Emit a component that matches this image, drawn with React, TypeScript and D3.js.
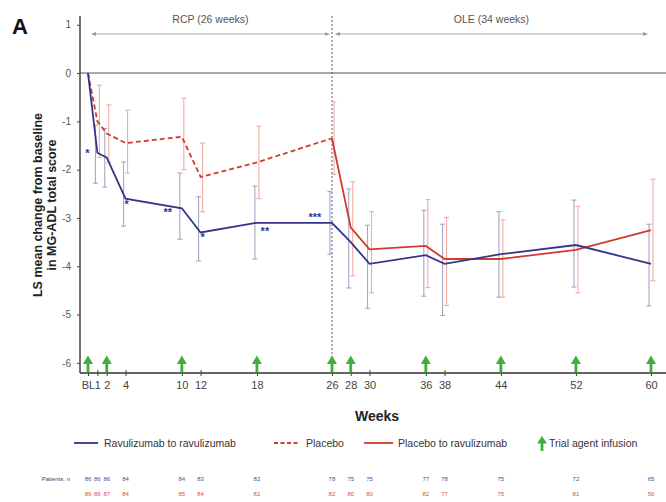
import { useEffect, useRef } from 'react';
import * as d3 from 'd3';

const weeks = [0, 1, 2, 4, 10, 12, 18, 26, 28, 30, 36, 38, 44, 52, 60];
const tickLabels = ['BL', '1', '2', '4', '10', '12', '18', '26', '28', '30', '36', '38', '44', '52', '60'];

// Ravulizumab to ravulizumab
const ravuMean = [0, -1.65, -1.75, -2.6, -2.8, -3.3, -3.1, -3.1, -3.5, -3.95, -3.77, -3.95, -3.75, -3.56, -3.95];
const ravuLower = [null, -2.28, -2.36, -3.17, -3.44, -3.89, -3.85, -3.75, -4.45, -4.87, -4.62, -5.02, -4.64, -4.43, -4.82];
const ravuUpper = [null, -1.08, -1.15, -1.84, -2.07, -2.56, -2.34, -2.45, -2.4, -3.15, -2.84, -3.13, -2.87, -2.63, -3.13];

// Placebo (RCP)
const placeboWeeks = [0, 1, 2, 4, 10, 12, 18, 26];
const placeboMean = [0, -1.0, -1.25, -1.45, -1.32, -2.15, -1.85, -1.35];
const placeboLower = [null, -1.75, -1.85, -2.07, -2.0, -2.87, -2.6, -2.1];
const placeboUpper = [null, -0.25, -0.66, -0.77, -0.52, -1.45, -1.1, -0.6];

// Placebo to ravulizumab (OLE)
const p2rWeeks = [26, 28, 30, 36, 38, 44, 52, 60];
const p2rMean = [-1.35, -3.2, -3.65, -3.58, -3.85, -3.85, -3.66, -3.25];
const p2rLower = [null, -4.2, -4.55, -4.44, -4.81, -4.64, -4.55, -4.3];
const p2rUpper = [null, -2.25, -2.87, -2.62, -2.99, -3.04, -2.76, -2.2];

const infusionWeeks = [0, 2, 10, 18, 26, 28, 36, 44, 52, 60];

const starWeeks = [1, 4, 10, 12, 18, 26];
const starLabels = ['*', '*', '**', '*', '**', '***'];

const ravuN = [86, 86, 86, 84, 84, 83, 82, 78, 75, 75, 77, 78, 75, 72, 65];
const placeboN = [89, 89, 87, 84, 85, 84, 82, 82, 80, 80, 82, 77, 75, 81, 56];

const yTicks = [1, 0, -1, -2, -3, -4, -5, -6];

const BLUE = '#34348c';
const RED = '#d23b2b';
const BLUE_BAR = '#a6a6c6';
const RED_BAR = '#f2aca2';
const GREEN = '#3fae3a';
const FONT = 'Liberation Sans, Arial, sans-serif';

const App = () => {
  const svgRef = useRef<SVGSVGElement>(null);

  useEffect(() => {
    if (!svgRef.current) return;
    const W = 666;
    const H = 502;
    const svg = d3.select(svgRef.current);
    svg.selectAll('*').remove();
    svg.attr('width', W).attr('height', H);

    const x = d3.scaleLinear().domain([0, 60]).range([88, 651]);
    const y = d3.scaleLinear().domain([1.14, -6.21]).range([18, 373]);
    const axisLeft = 80;
    const axisBottom = 373;

    // zero reference line
    svg.append('line')
      .attr('x1', axisLeft).attr('x2', W)
      .attr('y1', y(0)).attr('y2', y(0))
      .attr('stroke', '#8c8c8c').attr('stroke-width', 1.5);

    // RCP / OLE divider
    svg.append('line')
      .attr('x1', x(26)).attr('x2', x(26))
      .attr('y1', 16).attr('y2', axisBottom)
      .attr('stroke', '#5a5a80').attr('stroke-width', 1)
      .attr('stroke-dasharray', '2,2');

    // period arrows
    const defs = svg.append('defs');
    defs.append('marker')
      .attr('id', 'ah').attr('viewBox', '0 0 10 10')
      .attr('refX', 9).attr('refY', 5)
      .attr('markerWidth', 5).attr('markerHeight', 5)
      .attr('orient', 'auto-start-reverse')
      .append('path').attr('d', 'M0,1 L10,5 L0,9 Z').attr('fill', '#9a9a9a');

    const periods = [
      { label: 'RCP (26 weeks)', from: 0.4, to: 25.7 },
      { label: 'OLE (34 weeks)', from: 26.4, to: 59.6 }
    ];
    periods.forEach(p => {
      svg.append('line')
        .attr('x1', x(p.from)).attr('x2', x(p.to))
        .attr('y1', 34).attr('y2', 34)
        .attr('stroke', '#a8a8a8').attr('stroke-width', 1)
        .attr('marker-start', 'url(#ah)').attr('marker-end', 'url(#ah)');
      svg.append('text')
        .attr('x', (x(p.from) + x(p.to)) / 2).attr('y', 23)
        .attr('text-anchor', 'middle')
        .style('font-family', FONT).style('font-size', '10.5px').style('fill', '#555')
        .text(p.label);
    });

    // axes
    const yAxis = svg.append('g')
      .attr('transform', `translate(${axisLeft},0)`)
      .call(d3.axisLeft(y).tickValues(yTicks).tickSize(3).tickPadding(6).tickFormat(d => String(d)));
    yAxis.select('.domain').attr('stroke', '#444').attr('stroke-width', 1.5).attr('d', `M0,16V${axisBottom}`);
    yAxis.selectAll('.tick line').attr('stroke', '#444');
    yAxis.selectAll('text').style('font-family', FONT).style('font-size', '10px').style('fill', '#555');

    const xAxis = svg.append('g')
      .attr('transform', `translate(0,${axisBottom})`)
      .call(d3.axisBottom(x).tickValues(weeks).tickSize(3).tickPadding(5).tickFormat((_, i) => tickLabels[i]));
    xAxis.select('.domain').attr('stroke', '#333').attr('stroke-width', 1.5).attr('d', `M${axisLeft},0H${W}`);
    xAxis.selectAll('.tick line').attr('stroke', '#444').attr('y1', -3);
    xAxis.selectAll('text').style('font-family', FONT).style('font-size', '11px').style('fill', '#444');

    // error bars
    const drawBars = (wk: number[], lo: (number | null)[], hi: (number | null)[], color: string, dx: number) => {
      wk.forEach((w, i) => {
        const l = lo[i];
        const h = hi[i];
        if (l == null || h == null) return;
        const cx = x(w) + dx;
        const g = svg.append('g').attr('stroke', color).attr('stroke-width', 1.1);
        g.append('line').attr('x1', cx).attr('x2', cx).attr('y1', y(l)).attr('y2', y(h));
        g.append('line').attr('x1', cx - 2.5).attr('x2', cx + 2.5).attr('y1', y(l)).attr('y2', y(l));
        g.append('line').attr('x1', cx - 2.5).attr('x2', cx + 2.5).attr('y1', y(h)).attr('y2', y(h));
      });
    };
    drawBars(weeks, ravuLower, ravuUpper, BLUE_BAR, -2);
    drawBars(placeboWeeks, placeboLower, placeboUpper, RED_BAR, 2);
    drawBars(p2rWeeks, p2rLower, p2rUpper, RED_BAR, 2);

    // lines
    const line = d3.line<[number, number]>().x(d => x(d[0])).y(d => y(d[1]));
    svg.append('path')
      .datum(placeboWeeks.map((w, i) => [w, placeboMean[i]] as [number, number]))
      .attr('d', line).attr('fill', 'none')
      .attr('stroke', RED).attr('stroke-width', 1.8).attr('stroke-dasharray', '5,3');
    svg.append('path')
      .datum(p2rWeeks.map((w, i) => [w, p2rMean[i]] as [number, number]))
      .attr('d', line).attr('fill', 'none')
      .attr('stroke', RED).attr('stroke-width', 1.8);
    svg.append('path')
      .datum(weeks.map((w, i) => [w, ravuMean[i]] as [number, number]))
      .attr('d', line).attr('fill', 'none')
      .attr('stroke', BLUE).attr('stroke-width', 1.8);

    // significance stars
    const starDx = [-10, 1, -14, 2, 8, -17];
    const starDy = [4, 9, 8, 9, 12, -2];
    starWeeks.forEach((w, i) => {
      const m = ravuMean[weeks.indexOf(w)];
      svg.append('text')
        .attr('x', x(w) + starDx[i]).attr('y', y(m) + starDy[i])
        .attr('text-anchor', 'middle')
        .style('font-family', FONT).style('font-size', '11px').style('font-weight', 'bold')
        .style('fill', BLUE)
        .text(starLabels[i]);
    });

    // infusion arrows
    const arrowPath = (cx: number, base: number, h: number) => {
      const head = h * 0.5;
      const tip = base - h;
      return `M${cx - 1.4},${base} L${cx - 1.4},${tip + head} L${cx - 5},${tip + head} L${cx},${tip} L${cx + 5},${tip + head} L${cx + 1.4},${tip + head} L${cx + 1.4},${base} Z`;
    };
    infusionWeeks.forEach(w => {
      svg.append('path')
        .attr('d', arrowPath(x(w), y(-6.2), 17))
        .attr('fill', GREEN);
    });

    // axis titles
    const yt = svg.append('text')
      .attr('transform', 'translate(42,205) rotate(-90)')
      .attr('text-anchor', 'middle')
      .style('font-family', FONT).style('font-size', '12.5px').style('font-weight', 'bold')
      .style('fill', '#222');
    yt.append('tspan').attr('x', 0).attr('dy', 0).text('LS mean change from baseline');
    yt.append('tspan').attr('x', 0).attr('dy', 14).text('in MG-ADL total score');

    svg.append('text')
      .attr('x', 377).attr('y', 421)
      .attr('text-anchor', 'middle')
      .style('font-family', FONT).style('font-size', '14px').style('font-weight', 'bold')
      .style('fill', '#222')
      .text('Weeks');

    svg.append('text')
      .attr('x', 12).attr('y', 34)
      .style('font-family', FONT).style('font-size', '22px').style('font-weight', 'bold')
      .style('fill', '#111')
      .text('A');

    // legend
    const ly = 443;
    const legend = svg.append('g').style('font-family', FONT).style('font-size', '10.5px').style('fill', '#333');
    legend.append('line').attr('x1', 74).attr('x2', 98).attr('y1', ly).attr('y2', ly).attr('stroke', BLUE).attr('stroke-width', 1.8);
    legend.append('text').attr('x', 104).attr('y', ly + 4).text('Ravulizumab to ravulizumab');
    legend.append('line').attr('x1', 274).attr('x2', 300).attr('y1', ly).attr('y2', ly).attr('stroke', RED).attr('stroke-width', 1.8).attr('stroke-dasharray', '4,2.5');
    legend.append('text').attr('x', 306).attr('y', ly + 4).text('Placebo');
    legend.append('line').attr('x1', 364).attr('x2', 393).attr('y1', ly).attr('y2', ly).attr('stroke', RED).attr('stroke-width', 1.8);
    legend.append('text').attr('x', 398).attr('y', ly + 4).text('Placebo to ravulizumab');
    legend.append('path').attr('d', arrowPath(542, ly + 8, 15)).attr('fill', GREEN);
    legend.append('text').attr('x', 549).attr('y', ly + 4).text('Trial agent infusion');

    // patients at risk
    const pt = svg.append('g').style('font-family', FONT).style('font-size', '6px');
    pt.append('text').attr('x', 70).attr('y', 481).attr('text-anchor', 'end').style('fill', '#444').text('Patients, n');
    weeks.forEach((w, i) => {
      pt.append('text').attr('x', x(w)).attr('y', 481).attr('text-anchor', 'middle').style('fill', '#4a4aa8').text(ravuN[i]);
      pt.append('text').attr('x', x(w)).attr('y', 496).attr('text-anchor', 'middle').style('fill', '#d8504a').text(placeboN[i]);
    });
  }, []);

  return (
    <div style={{ position: 'absolute', left: 0, top: 0, width: 666, height: 502, background: '#fff' }}>
      <svg ref={svgRef} style={{ display: 'block' }}></svg>
    </div>
  );
};

export default App;
